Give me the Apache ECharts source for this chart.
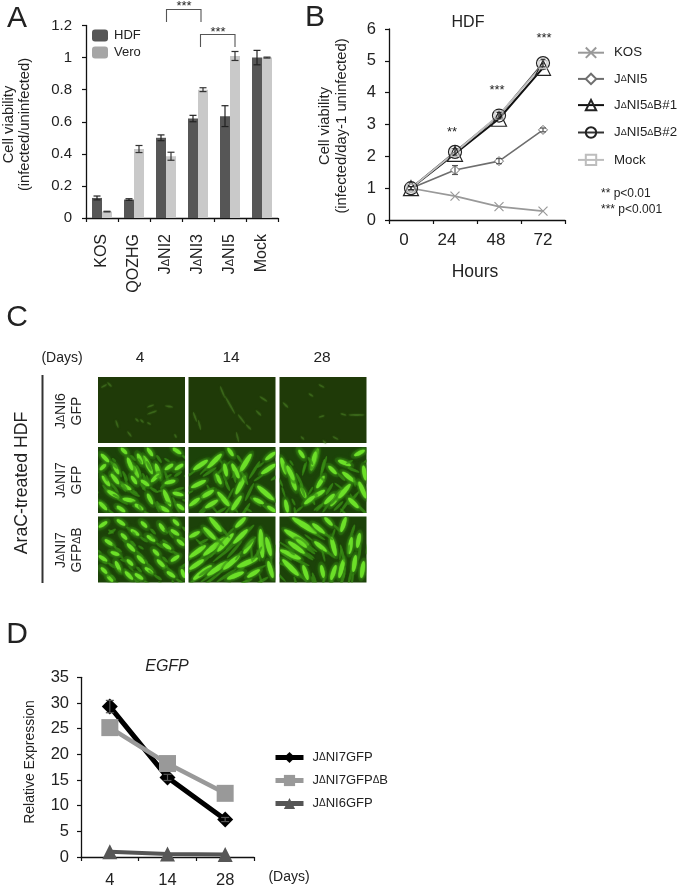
<!DOCTYPE html>
<html><head><meta charset="utf-8">
<style>html,body{margin:0;padding:0;background:#fff}#c{width:680px;height:889px;filter:blur(0.45px)}</style>
<script src="https://cdn.jsdelivr.net/npm/echarts@6/dist/echarts.min.js"></script>
</head><body><div id="c"></div>
<script>
// ---- Panel A ----
var aCats = ['KOS','QOZHG','JΔNI2','JΔNI3','JΔNI5','Mock'];
var aHDF = [0.125,0.115,0.50,0.62,0.635,1.0];
var aHDFErr = [0.012,0.005,0.018,0.02,0.065,0.045];
var aVero = [0.04,0.43,0.385,0.80,1.01,1.0];
var aVeroErr = [0.002,0.022,0.025,0.012,0.028,0.003];
// ---- Panel B ----
var bCats = ['0','24','48','72'];
var bKOS = [1,0.75,0.42,0.28];
var bNI5 = [1,1.57,1.85,2.83];
var bB1 = [1,2.08,3.18,4.78];
var bB2 = [1,2.14,3.28,4.93];
var bMock = [1,2.12,3.3,4.88];
var bNI5Err = [0.05,0.14,0.08,0.06];
var bB2Err = [0.05,0.1,0.1,0.12];
// ---- Panel D ----
var dCats = ['4','14','28'];
var dNI7 = [29.3,15.5,7.3];
var dNI7Err = [1.2,0.6,0.4];
var dNI7B = [25.2,18.2,12.4];
var dNI6 = [1.0,0.6,0.5];
var cRows = ['JΔNI6\nGFP','JΔNI7\nGFP','JΔNI7\nGFPΔB'];
var cDays = ['4','14','28'];
var cTiles = [
 [ // row 0: faint
  [[10,6,13,9],[50,30,55,28],[43,43,45,45],[50,46,52,47],[30,55,33,59],[77,58,78,60],[68,29,74,30],[50,37,58,34],[18,44,20,50],[4,10,8,8],[38,42,40,44]],
  [[37,20,46,36],[50,38,56,46],[58,48,62,52],[5,36,8,44],[72,20,78,24],[48,56,50,64],[10,44,12,52],[68,34,72,38],[32,10,36,20]],
  [[30,17,33,19],[62,37,66,38],[40,40,44,39],[54,60,58,62],[44,64,46,66],[4,26,8,30],[40,8,44,10],[70,38,84,38],[22,60,24,62]]
 ],
 [ // row 1: bright
  [[3,22,7,18],[24,2,28,6],[46,10,54,26],[40,8,44,16],[50,2,54,8],[36,20,40,30],[58,18,62,30],[60,28,54,34],[66,44,72,58],[10,44,20,50],[5,30,11,38],[24,38,32,42],[26,52,36,54],[2,56,8,62],[38,58,44,62],[68,22,74,18],[78,22,84,18],[76,2,82,6],[30,12,34,22],[16,18,20,26],[20,60,26,64],[62,60,70,64],[76,46,84,48],[44,34,50,38],[34,30,38,36],[68,36,76,34],[4,8,10,14],[50,48,54,56],[80,58,85,62],[14,28,20,36]],
  [[40,2,44,8],[28,28,32,36],[56,30,48,46],[62,8,52,24],[78,12,86,6],[4,40,16,34],[14,50,24,44],[30,46,40,58],[2,58,10,52],[70,40,84,52],[66,52,74,56],[20,20,32,8],[44,18,50,30],[74,26,86,18],[6,22,18,14],[52,50,44,62],[80,60,86,64],[18,60,28,54],[36,18,38,28]],
  [[38,3,32,22],[36,6,33,18],[2,12,6,26],[62,44,52,58],[70,38,60,50],[6,54,8,64],[22,42,26,50],[34,50,44,44],[20,4,24,10],[60,14,70,18],[64,26,74,34],[76,8,84,4],[44,30,38,40],[80,36,86,50],[12,30,16,42],[70,52,78,60],[46,56,54,48],[26,56,34,50],[8,20,14,32],[50,20,56,26],[84,20,86,32]]
 ],
 [ // row 2: bright
  [[20,4,26,8],[2,10,8,6],[34,14,40,18],[50,20,56,24],[66,28,72,32],[30,28,36,34],[8,24,14,28],[2,40,8,44],[40,40,46,46],[48,52,54,56],[18,46,22,54],[28,56,34,62],[10,60,14,64],[60,44,66,50],[74,44,80,40],[62,8,66,14],[74,14,80,18],[80,24,85,28],[44,6,48,10],[14,36,20,38],[70,56,76,60],[56,34,60,38],[24,18,28,22],[84,54,86,60],[38,58,44,62],[4,52,8,56],[30,44,34,48],[76,4,80,8]],
  [[2,40,16,30],[16,38,36,22],[30,34,44,18],[6,62,22,50],[20,58,38,46],[36,52,50,40],[48,10,56,2],[50,50,68,42],[72,14,74,40],[78,22,82,38],[16,12,26,22],[22,2,32,14],[64,24,56,36],[2,20,10,16],[60,60,70,54],[80,46,84,60],[40,62,54,56],[46,26,58,14],[2,52,14,44]],
  [[2,34,20,42],[4,44,18,58],[14,2,36,16],[6,14,28,28],[46,2,52,8],[66,2,62,14],[72,22,70,36],[80,18,78,30],[64,44,60,60],[18,24,26,30],[24,50,28,62],[36,26,46,34],[76,40,74,54],[52,22,56,38],[42,50,44,60],[84,46,82,60],[34,8,44,16],[10,26,24,36],[56,50,52,62]]
 ]
];

var INK = '#222';
var FONT = '"Liberation Sans",Arial,sans-serif';
var TILE = {w:87,h:66,xs:[0,90.5,181.5],ys:[0,70,139.5]};
function d(s){return String(s).replace(/Δ/g,'{d|Δ}');}
function richD(size){return {d:{fontSize:size,fontFamily:FONT,color:INK}};}
function txt(t,x,y,size,extra){
  var st = Object.assign({text:t,fontSize:size,fontFamily:FONT,fill:INK,align:'center',verticalAlign:'middle'},extra&&extra.style||{});
  var o = {type:'text',x:x,y:y,style:st,silent:true,z:20};
  if(extra&&extra.rotation) o.rotation = extra.rotation;
  return o;
}
function vtxt(t,x,y,size,lh,dsize){
  return txt(d(t),x,y,size,{rotation:Math.PI/2,style:{lineHeight:lh,rich:{d:{fontSize:dsize||10,fontFamily:FONT,fill:INK,lineHeight:lh}}}});
}
function axisBase(){return {axisLine:{show:true,onZero:false,lineStyle:{color:'#111',width:1.3}},axisTick:{show:true,length:4,lineStyle:{color:'#111',width:1.2}},splitLine:{show:false}};}
function errSeries(name,xi,yi,vals,errs,offset,color,cap){
  return {type:'custom',name:name,xAxisIndex:xi,yAxisIndex:yi,z:6,silent:true,clip:false,
    data:vals.map(function(v,i){return [i,v,errs[i]];}),
    renderItem:function(p,api){
      var i=api.value(0),v=api.value(1),e=api.value(2);
      var hi=api.coord([i,v+e]),lo=api.coord([i,v-e]);
      var x=hi[0]+offset;
      var ls={stroke:color,lineWidth:1.2,fill:null};
      return {type:'group',children:[
        {type:'line',shape:{x1:x,y1:hi[1],x2:x,y2:lo[1]},style:ls},
        {type:'line',shape:{x1:x-cap,y1:hi[1],x2:x+cap,y2:hi[1]},style:ls},
        {type:'line',shape:{x1:x-cap,y1:lo[1],x2:x+cap,y2:lo[1]},style:ls}]};
    }};
}
function tileSeries(){
  var bg=[],core=[];
  cTiles.forEach(function(row,r){row.forEach(function(list,c){
    bg.push([c,r]);
    list.forEach(function(s){core.push([c,r,s[0],s[1],s[2],s[3]]);});
  });});
  function P(api,c,r,x,y){return api.coord([TILE.xs[c]+x,TILE.ys[r]+y]);}
  function clipOf(api,c,r){var a=P(api,c,r,0,0);return {type:'rect',shape:{x:a[0],y:a[1],width:TILE.w,height:TILE.h}};}
  function ell(cx,cy,rx,ry,ang,fill,op,blur){
    return {type:'ellipse',shape:{cx:0,cy:0,rx:rx,ry:ry},x:cx,y:cy,rotation:ang,
      style:{fill:fill,opacity:op,shadowBlur:blur||0,shadowColor:fill}};
  }
  return [
   {type:'custom',xAxisIndex:3,yAxisIndex:3,silent:true,z:2,data:bg,renderItem:function(p,api){
      var c=api.value(0),r=api.value(1),a=P(api,c,r,0,0);
      return {type:'rect',shape:{x:a[0],y:a[1],width:TILE.w,height:TILE.h},style:{fill:r===0?'#1f3a08':'#1c4209'}};
   }},
   {type:'custom',xAxisIndex:3,yAxisIndex:3,silent:true,z:3,data:core,renderItem:function(p,api){
      var c=api.value(0),r=api.value(1),a=P(api,c,r,api.value(2),api.value(3)),b=P(api,c,r,api.value(4),api.value(5));
      var cx=(a[0]+b[0])/2,cy=(a[1]+b[1])/2,dx=b[0]-a[0],dy=b[1]-a[1];
      var len=Math.sqrt(dx*dx+dy*dy)/2+1,ang=-Math.atan2(dy,dx);
      if(r===0) return {type:'group',children:[ell(cx,cy,len,.9,ang,'#4f8a28',.4,2)]};
      return {type:'group',clipPath:clipOf(api,c,r),children:[
        ell(cx,cy,len+4,4.5,ang,'#2f7a12',.4,3),
        ell(cx+9,cy+7,len,1.4,ang,'#3a8f16',.55,1),
        ell(cx-10,cy+9,len*.7,1.1,ang,'#3a8f16',.5,1),
        ell(cx,cy,len+.5,Math.min(1.4+len*.09,2.8),ang,'#6ce028',1,2)]};
   }}
  ];
}

var X_SYM='path://M0 0L10 10M0 10L10 0';
var tickStyle={color:INK,fontFamily:FONT};
var option={
 animation:false,backgroundColor:'#fff',textStyle:{fontFamily:FONT,color:INK},
 grid:[
  {left:86,top:25.5,width:192,height:192.5},
  {left:389,top:29,width:176,height:191},
  {left:81,top:677.3,width:173,height:181.4},
  {left:98,top:377,width:269,height:206}
 ],
 xAxis:[
  Object.assign(axisBase(),{gridIndex:0,type:'category',data:aCats,axisLabel:{rotate:90,fontSize:16,margin:16,color:INK,fontFamily:FONT,formatter:d,rich:richD(11),interval:0}}),
  Object.assign(axisBase(),{gridIndex:1,type:'category',data:bCats,axisLabel:{fontSize:17,margin:12,color:INK,fontFamily:FONT,interval:0,
     formatter:function(v){return {'0':'{a|0}','24':'{b|24}','48':'{c|48}','72':'72'}[v];},
     rich:{a:{fontSize:17,color:INK,padding:[0,14,0,0]},b:{fontSize:17,color:INK,padding:[0,16,0,0]},c:{fontSize:17,color:INK,padding:[0,6,0,0]}}}}),
  Object.assign(axisBase(),{gridIndex:2,type:'category',data:dCats,axisLabel:Object.assign({fontSize:16.5,margin:15,interval:0},tickStyle)}),
  {gridIndex:3,type:'value',min:0,max:269,show:false}
 ],
 yAxis:[
  Object.assign(axisBase(),{gridIndex:0,type:'value',min:0,max:1.2,interval:0.2,axisLabel:Object.assign({fontSize:15,margin:14},tickStyle)}),
  Object.assign(axisBase(),{gridIndex:1,type:'value',min:0,max:6,interval:1,axisLabel:Object.assign({fontSize:16.5,margin:13},tickStyle)}),
  Object.assign(axisBase(),{gridIndex:2,type:'value',min:0,max:35,interval:5,axisLabel:Object.assign({fontSize:16.5,margin:12},tickStyle)}),
  {gridIndex:3,type:'value',min:0,max:206,inverse:true,show:false}
 ],
 legend:[
  {left:87,top:24,orient:'vertical',itemWidth:16,itemHeight:12,itemGap:4,textStyle:{fontSize:13,color:INK,fontFamily:FONT,padding:[0,0,0,1]},selectedMode:false,
   data:[{name:'HDF',itemStyle:{color:'#565656'}},{name:'Vero',itemStyle:{color:'#a6a6a6'}}]},
  {left:572,top:40,orient:'vertical',itemWidth:26,itemHeight:13,itemGap:12,selectedMode:false,formatter:d,
   textStyle:{fontSize:13.3,color:INK,fontFamily:FONT,padding:[0,0,0,5],rich:richD(9)},
   data:['KOS','JΔNI5','JΔNI5ΔB#1','JΔNI5ΔB#2','Mock']},
  {left:268,top:746,orient:'vertical',itemWidth:28,itemHeight:14,itemGap:10,selectedMode:false,formatter:d,
   lineStyle:{width:5},
   textStyle:{fontSize:13,color:INK,fontFamily:FONT,padding:[0,0,0,4],rich:richD(10)},
   data:['JΔNI7GFP','JΔNI7GFPΔB','JΔNI6GFP']}
 ],
 series:[
  {type:'bar',name:'HDF',xAxisIndex:0,yAxisIndex:0,data:aHDF,barWidth:10,barGap:'0%',itemStyle:{color:'#565656'}},
  {type:'bar',name:'Vero',xAxisIndex:0,yAxisIndex:0,data:aVero,barWidth:10,barGap:'0%',itemStyle:{color:'#c9c9c9'}},
  errSeries('',0,0,aHDF,aHDFErr,-5,'#222',3.5),
  errSeries('',0,0,aVero,aVeroErr,5,'#333',3.5),

  {type:'line',name:'KOS',xAxisIndex:1,yAxisIndex:1,data:bKOS,symbol:X_SYM,symbolSize:9,lineStyle:{color:'#999',width:1.6},itemStyle:{color:'none',borderColor:'#999',borderWidth:1.2}},
  {type:'line',name:'JΔNI5',xAxisIndex:1,yAxisIndex:1,data:bNI5,symbol:'diamond',symbolSize:9,lineStyle:{color:'#6e6e6e',width:1.6},itemStyle:{color:'#fff',borderColor:'#6e6e6e',borderWidth:1}},
  errSeries('',1,1,bNI5,bNI5Err,0,'#555',3),
  {type:'line',name:'JΔNI5ΔB#1',xAxisIndex:1,yAxisIndex:1,data:bB1,symbol:'triangle',symbolSize:15,lineStyle:{color:'#111',width:2},itemStyle:{color:'none',borderColor:'#222',borderWidth:1.2}},
  {type:'line',name:'JΔNI5ΔB#2',xAxisIndex:1,yAxisIndex:1,data:bB2,symbol:'circle',symbolSize:13,lineStyle:{color:'#333',width:1.6},itemStyle:{color:'none',borderColor:'#222',borderWidth:1.2}},
  errSeries('',1,1,bB2,bB2Err,0,'#222',2.5),
  {type:'line',name:'Mock',xAxisIndex:1,yAxisIndex:1,data:bMock,symbol:'rect',symbolSize:8,lineStyle:{color:'#bdbdbd',width:1.8},itemStyle:{color:'none',borderColor:'#bdbdbd',borderWidth:1.1}},

  errSeries('',2,2,dNI7,dNI7Err,0,'#555',4),
  {type:'line',name:'JΔNI6GFP',xAxisIndex:2,yAxisIndex:2,data:dNI6,symbol:'triangle',symbolSize:15,clip:false,lineStyle:{color:'#555',width:4},itemStyle:{color:'#565656'}},
  {type:'line',name:'JΔNI7GFP',xAxisIndex:2,yAxisIndex:2,data:dNI7,symbol:'diamond',symbolSize:16,lineStyle:{color:'#000',width:5},itemStyle:{color:'#000'}},
  {type:'line',name:'JΔNI7GFPΔB',xAxisIndex:2,yAxisIndex:2,data:dNI7B,symbol:'rect',symbolSize:17,lineStyle:{color:'#999',width:4.5},itemStyle:{color:'#999'}}
 ].concat(tileSeries()),
 graphic:{elements:[
  txt('A',17,19,30), txt('B',315,18,30), txt('C',17,318,30), txt('D',17,635,30),
  // axis names
  vtxt('Cell viability\n(infected/uninfected)',17,124.5,14.7,16),
  vtxt('Cell viability\n(infected/day-1 uninfected)',333.5,126,14.8,17),
  vtxt('Relative Expression',30,762,14,16),
  // A brackets and stars
  {type:'polyline',shape:{points:[[166.5,22],[166.5,9.5],[201,9.5],[201,22]]},style:{stroke:'#555',lineWidth:1.1,fill:null},silent:true},
  {type:'polyline',shape:{points:[[200.5,47],[200.5,34.5],[235,34.5],[235,47]]},style:{stroke:'#555',lineWidth:1.1,fill:null},silent:true},
  txt('***',184,6,13), txt('***',218,32,13),
  // B
  txt('HDF',468,23,16), txt('Hours',475,272,17.5),
  txt('**',452,132,13), txt('***',497,90,13), txt('***',544,38,13),
  txt('** p<0.01',601,194,12,{style:{align:'left'}}), txt('*** p<0.001',601,210,12,{style:{align:'left'}}),
  // C
  txt('(Days)',62,358,14),
  txt(cDays[0],140,358,15.5), txt(cDays[1],231,358,15.5), txt(cDays[2],322,358,15.5),
  {type:'line',shape:{x1:42.5,y1:375,x2:42.5,y2:583},style:{stroke:'#333',lineWidth:2},silent:true},
  txt('AraC-treated HDF',22,483,17.7,{rotation:Math.PI/2}),
  vtxt(cRows[0],69,411,14,16,10.5),
  vtxt(cRows[1],69,480,14,16,10.5),
  vtxt(cRows[2],69,550,14,16,10.5),
  // D
  txt('EGFP',167,667,16,{style:{fontStyle:'italic'}}),
  txt('(Days)',289,877,14)
 ]}
};
var chart=echarts.init(document.getElementById('c'),null,{renderer:'canvas',width:680,height:889});
chart.setOption(option);
</script></body></html>
